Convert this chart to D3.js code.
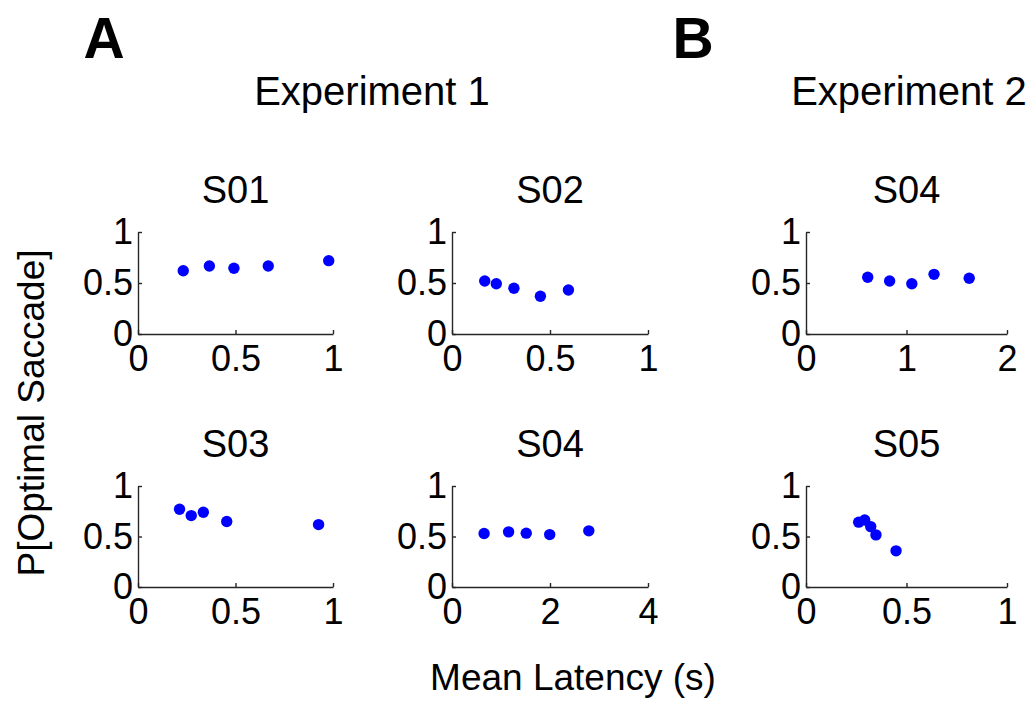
<!DOCTYPE html>
<html>
<head>
<meta charset="utf-8">
<script src="https://cdn.jsdelivr.net/npm/d3@7"></script>
<style>
  body { margin: 0; background: #fff; }
  svg text { font-family: "Liberation Sans", Arial, sans-serif; fill: #000; }
</style>
</head>
<body>
<div id="wrapper"></div>
<script>
// panel titles and axis ranges
const panelNames = ["S01", "S02", "S04", "S03", "S04", "S05"];
const xMax = [1, 1, 2, 1, 4, 1];
const xTicks = [[0, 0.5, 1], [0, 0.5, 1], [0, 1, 2], [0, 0.5, 1], [0, 2, 4], [0, 0.5, 1]];
const yTicks = [0, 0.5, 1];

// mean latency (s) per subject
const latS01 = [0.232, 0.366, 0.492, 0.668, 0.978];
const latS02 = [0.167, 0.226, 0.316, 0.451, 0.594];
const latS04b = [0.614, 0.832, 1.053, 1.274, 1.624];
const latS03 = [0.213, 0.273, 0.335, 0.455, 0.926];
const latS04a = [0.655, 1.155, 1.515, 1.994, 2.792];
const latS05 = [0.262, 0.292, 0.322, 0.348, 0.448];

// P[optimal saccade] per subject
const pS01 = [0.62, 0.667, 0.644, 0.667, 0.719];
const pS02 = [0.52, 0.493, 0.448, 0.37, 0.431];
const pS04b = [0.556, 0.52, 0.493, 0.585, 0.546];
const pS03 = [0.77, 0.707, 0.74, 0.648, 0.618];
const pS04a = [0.529, 0.546, 0.533, 0.519, 0.556];
const pS05 = [0.642, 0.664, 0.598, 0.516, 0.358];

const lats = [latS01, latS02, latS04b, latS03, latS04a, latS05];
const probs = [pS01, pS02, pS04b, pS03, pS04a, pS05];

const width = 1036, height = 721;
const cols = [[138, 333], [452, 648], [806, 1007]];
const rows = [[232, 334], [486, 587]];

const svg = d3.select("#wrapper")
    .append("svg")
    .attr("width", width)
    .attr("height", height);

panelNames.forEach((name, i) => {
    const c = cols[i % 3], r = rows[Math.floor(i / 3)];
    const x = d3.scaleLinear().domain([0, xMax[i]]).range(c);
    const y = d3.scaleLinear().domain([0, 1]).range([r[1], r[0]]);

    const g = svg.append("g");

    g.append("g")
        .attr("transform", `translate(0,${r[1]})`)
        .call(d3.axisBottom(x).tickValues(xTicks[i]).tickFormat(d3.format("")).tickSizeInner(-4).tickSizeOuter(0).tickPadding(11));

    g.append("g")
        .attr("transform", `translate(${c[0]},0)`)
        .call(d3.axisLeft(y).tickValues(yTicks).tickFormat(d3.format("")).tickSizeInner(-4).tickSizeOuter(0).tickPadding(5));

    g.selectAll(".domain, .tick line")
        .attr("stroke", "#262626")
        .attr("stroke-width", 1.4);
    g.selectAll(".tick text")
        .attr("font-size", 36)
        .attr("fill", "#000")
        .style("font-family", "Liberation Sans, Arial, sans-serif");

    g.selectAll("circle")
        .data(lats[i].map((v, k) => [v, probs[i][k]]))
        .enter()
        .append("circle")
        .attr("cx", d => x(d[0]))
        .attr("cy", d => y(d[1]))
        .attr("r", 5.7)
        .attr("fill", "#0000ff");

    g.append("text")
        .attr("x", (c[0] + c[1]) / 2)
        .attr("y", r[0] - 29)
        .attr("text-anchor", "middle")
        .attr("font-size", 38)
        .text(name);
});

// headings
svg.append("text").attr("x", 104).attr("y", 58).attr("text-anchor", "middle")
    .attr("font-size", 57).attr("font-weight", "bold").text("A");
svg.append("text").attr("x", 693).attr("y", 58).attr("text-anchor", "middle")
    .attr("font-size", 57).attr("font-weight", "bold").text("B");
svg.append("text").attr("x", 372).attr("y", 105).attr("text-anchor", "middle")
    .attr("font-size", 40).text("Experiment 1");
svg.append("text").attr("x", 909).attr("y", 105).attr("text-anchor", "middle")
    .attr("font-size", 40).text("Experiment 2");

// axis titles
svg.append("text").attr("x", 573).attr("y", 690).attr("text-anchor", "middle")
    .attr("font-size", 37).text("Mean Latency (s)");
svg.append("text")
    .attr("transform", "translate(44,413) rotate(-90)")
    .attr("text-anchor", "middle")
    .attr("font-size", 37)
    .text("P[Optimal Saccade]");
</script>
</body>
</html>
